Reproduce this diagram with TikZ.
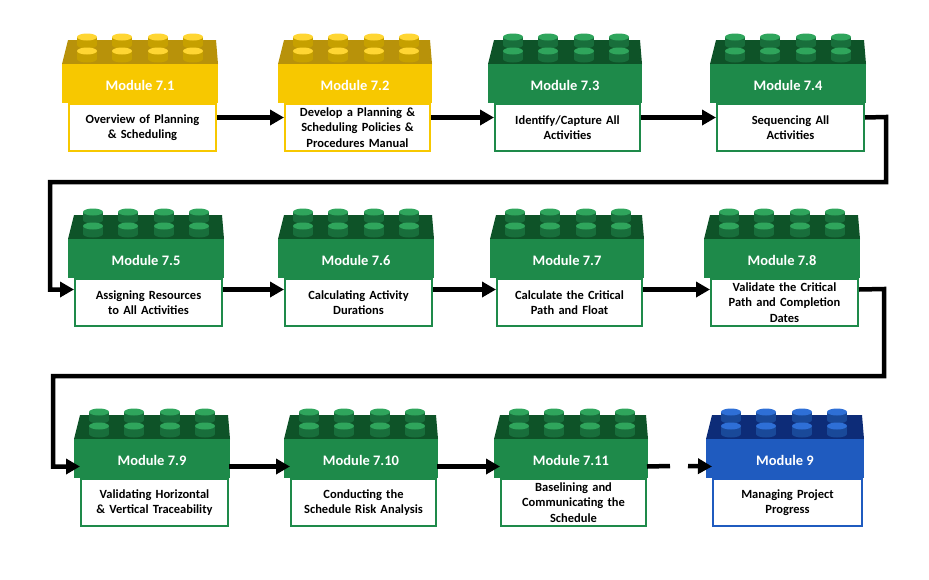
\documentclass[tikz,border=0pt]{standalone}
\usepackage{fontspec}
\setmainfont{Carlito}
\usetikzlibrary{arrows.meta}
\definecolor{yF}{HTML}{F7C800}\definecolor{yT}{HTML}{B8920A}\definecolor{yS}{HTML}{FFD633}
\definecolor{gF}{HTML}{1E8A4A}\definecolor{gT}{HTML}{0E5328}\definecolor{gS}{HTML}{2FA55C}
\definecolor{bF}{HTML}{1F5BBF}\definecolor{bT}{HTML}{0D2C78}\definecolor{bS}{HTML}{2E6FD6}
\tikzset{
 boxtext/.style={draw, fill=white, line width=2pt, inner sep=1pt, align=center, font=\bfseries\fontsize{12.5}{15.5}\selectfont, anchor=north west, text width=#1},
 lbl/.style={text=white, font=\bfseries\fontsize{14.5}{16}\selectfont},
 arr/.style={line width=4.5pt, miter limit=10, -{Triangle[length=14pt,width=15pt]}},
}
\newcommand{\studd}[4]{% cx cy body top
 \fill[#3] (#1-10,#2) rectangle (#1+10,#2+8);
 \fill[#3] (#1,#2+8) ellipse [x radius=10, y radius=3.5];
 \fill[#4] (#1,#2) ellipse [x radius=10, y radius=3.5];
}
\newcommand{\brickk}[9]{%
 \pgfmathsetmacro\bw{#3-#2-11}
 \fill[#6] (#2+6,#4) -- (#3-2,#4) -- (#3,#4+24) -- (#2,#4+24) -- cycle;
 \fill[#5] (#2,#4+24) rectangle (#3,#4+63);
 \foreach \dx in {25,60,96,131}{
  \studd{#2+\dx}{#4-3}{#5!80!black}{#7}
  \studd{#2+\dx}{#4+11}{#5!80!black}{#7}
 }
 \node[lbl] at ({(#2+#3)/2},#4+45) {#8};
 \node[boxtext=\bw pt, draw=#5, minimum height=47pt] (#1) at (#2+6,#4+63) {#9};
}
\begin{document}
\begin{tikzpicture}[x=1pt,y=-1pt]
\useasboundingbox[fill=white] (0,0) rectangle (929,579);
\brickk{m71}{62}{218}{40}{yF}{yT}{yS}{Module 7.1}{Overview of Planning\\\& Scheduling}
\brickk{m72}{278}{432}{40}{yF}{yT}{yS}{Module 7.2}{Develop a Planning \&\\Scheduling Policies \&\\Procedures Manual}
\brickk{m73}{488}{642}{40}{gF}{gT}{gS}{Module 7.3}{Identify/Capture All\\Activities}
\brickk{m74}{710}{866}{40}{gF}{gT}{gS}{Module 7.4}{Sequencing All\\Activities}
\brickk{m75}{68}{224}{215}{gF}{gT}{gS}{Module 7.5}{Assigning Resources\\to All  Activities}
\brickk{m76}{278}{434}{215}{gF}{gT}{gS}{Module 7.6}{Calculating Activity\\Durations}
\brickk{m77}{490}{644}{215}{gF}{gT}{gS}{Module 7.7}{Calculate the Critical\\Path and Float}
\brickk{m78}{704}{860}{215}{gF}{gT}{gS}{Module 7.8}{Validate the Critical\\Path and Completion\\Dates}
\brickk{m79}{74}{230}{415}{gF}{gT}{gS}{Module 7.9}{Validating Horizontal\\\& Vertical Traceability}
\brickk{m710}{284}{438}{415}{gF}{gT}{gS}{Module 7.10}{Conducting the\\Schedule Risk Analysis}
\brickk{m711}{494}{648}{415}{gF}{gT}{gS}{Module 7.11}{Baselining and\\Communicating the\\Schedule}
\brickk{m9}{706}{864}{415}{bF}{bT}{bS}{Module 9}{Managing Project\\Progress}
\draw[arr] ([yshift=10pt]m71.east) -- ([yshift=10pt]m72.west);
\draw[arr] ([yshift=10pt]m72.east) -- ([yshift=10pt]m73.west);
\draw[arr] ([yshift=10pt]m73.east) -- ([yshift=10pt]m74.west);
\coordinate (c1) at (886,117); \coordinate (c2) at (886,182); \coordinate (c3) at (50,182);
\draw[arr] ([yshift=10pt]m74.east) -- (c1) -- (c2) -- (c3) |- ([yshift=13pt]m75.west);
\draw[arr] ([yshift=13pt]m75.east) -- ([yshift=13pt]m76.west);
\draw[arr] ([yshift=13pt]m76.east) -- ([yshift=13pt]m77.west);
\draw[arr] ([yshift=13pt]m77.east) -- ([yshift=13pt]m78.west);
\coordinate (d1) at (884,289); \coordinate (d2) at (884,376); \coordinate (d3) at (53,376);
\draw[arr] ([yshift=13pt]m78.east) -- (d1) -- (d2) -- (d3) |- ([yshift=36pt]m79.west);
\draw[arr] ([yshift=36pt]m79.east) -- ([yshift=36pt]m710.west);
\draw[arr] ([yshift=36pt]m710.east) -- ([yshift=36pt]m711.west);
\coordinate (e1) at (670,466); \coordinate (e2) at (688,466);
\draw[line width=4.5pt] ([yshift=36pt]m711.east) -- (e1);
\draw[arr] (e2) -- ([yshift=36pt]m9.west);
\end{tikzpicture}
\end{document}
